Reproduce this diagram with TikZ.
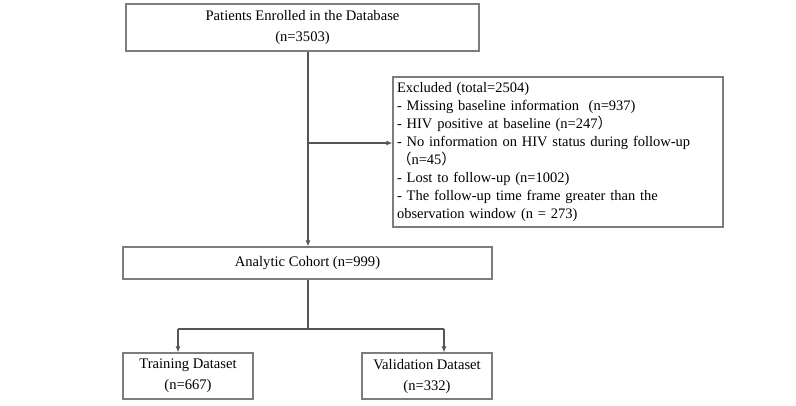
\documentclass[tikz,border=0pt]{standalone}
\usepackage{fontspec}
\setmainfont{Liberation Serif}
\newfontfamily\cjk{Noto Sans CJK SC}
\usetikzlibrary{arrows.meta}
\definecolor{boxgray}{RGB}{125,125,125}
\definecolor{linegray}{RGB}{85,85,85}
\begin{document}
\begin{tikzpicture}[x=1pt,y=-1pt,
  box/.style={draw=boxgray, line width=1.1pt, inner sep=0pt, align=center,
              font=\fontsize{14.6}{21}\selectfont},
  conn/.style={draw=linegray, line width=1.1pt},
  arr/.style={conn, -{Latex[length=6pt,width=5pt]}}]
\useasboundingbox (0,0) rectangle (796,405);
\node[box, minimum width=353pt, minimum height=47pt] (top) at (302.5,27.5)
  {Patients Enrolled in the Database\\(n=3503)};
\node[box, minimum width=330pt, minimum height=150pt, text width=322pt,
      inner xsep=4pt, align=left, font=\fontsize{14.5}{18}\selectfont] (excl) at (558,152)
  {Excluded (total=2504)\\
   - Missing baseline information\ \ (n=937)\\
   - HIV positive at baseline (n=247{\cjk ）}\\
   - No information on HIV status during follow-up\\
   {\cjk （}n=45{\cjk ）}\\
   - Lost to follow-up (n=1002)\\
   - The follow-up time frame greater than the\\
   observation window (n = 273)};
\node[box, minimum width=369pt, minimum height=32pt] (cohort) at (307.5,263)
  {Analytic Cohort (n=999)};
\node[box, minimum width=130pt, minimum height=46pt] (train) at (188,376)
  {Training Dataset\\(n=667)};
\node[box, minimum width=130pt, minimum height=46pt] (valid) at (427,376)
  {Validation Dataset\\(n=332)};
\coordinate (tx) at (308,51);
\coordinate (branch) at (308,143);
\coordinate (cx) at (308,279);
\coordinate (split) at (308,329);
\coordinate (lt) at (178,329);
\coordinate (rt) at (444,329);
\draw[arr] (top.south -| tx) -- (cohort.north -| tx);
\draw[arr] (branch) -- (excl.west |- branch);
\draw[conn] (cohort.south -| cx) -- (split);
\draw[conn] (lt) -- (rt);
\draw[arr] (lt) -- (train.north -| lt);
\draw[arr] (rt) -- (valid.north -| rt);
\end{tikzpicture}
\end{document}
